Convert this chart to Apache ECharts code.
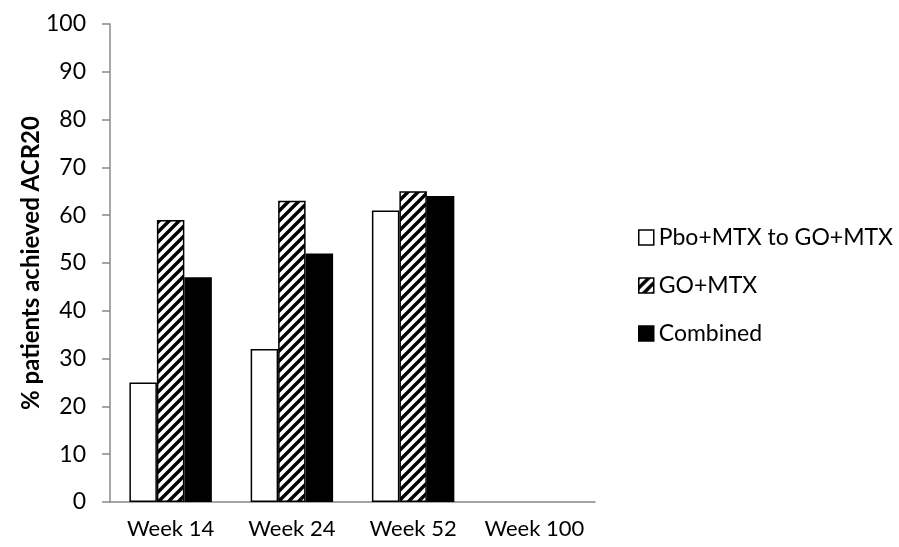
<!DOCTYPE html>
<html><head><meta charset="utf-8">
<script src="https://cdn.jsdelivr.net/npm/echarts@6/dist/echarts.min.js"></script>
<style>html,body{margin:0;padding:0;background:#fff}#c{width:899px;height:547px}</style>
</head><body><div id="c"></div>
<script>
const categories = ['Week 14', 'Week 24', 'Week 52', 'Week 100'];
const pboToGo = [25, 32, 61, null];
const goMtx = [59, 63, 65, null];
const combined = [47, 52, 64, null];
const yTicks = {min: 0, max: 100, interval: 10};

function hatch() {
  const s = 10, cv = document.createElement('canvas');
  cv.width = s; cv.height = s;
  const g = cv.getContext('2d');
  g.fillStyle = '#fff'; g.fillRect(0, 0, s, s);
  g.strokeStyle = '#000'; g.lineWidth = 3.4;
  g.beginPath();
  g.moveTo(-s, s); g.lineTo(s, -s);
  g.moveTo(0, s); g.lineTo(s, 0);
  g.moveTo(0, 2 * s); g.lineTo(2 * s, 0);
  g.stroke();
  return {image: cv, repeat: 'repeat'};
}
const font = 'Lato, "Open Sans", sans-serif';
const chart = echarts.init(document.getElementById('c'));
chart.setOption({
  animation: false,
  textStyle: {fontFamily: font},
  grid: {left: 110, right: 304, top: 24, bottom: 45},
  legend: {
    orient: 'vertical', left: 633, top: 221, itemGap: 25, itemWidth: 15, itemHeight: 15,
    icon: 'rect',
    textStyle: {fontSize: 23, color: '#000', fontFamily: font},
    itemStyle: {borderWidth: 1.5, borderColor: '#000'},
    data: ['Pbo+MTX to GO+MTX', 'GO+MTX', 'Combined']
  },
  xAxis: {
    type: 'category', data: categories,
    axisLine: {lineStyle: {color: '#888', width: 1.5}},
    axisTick: {length: 8, lineStyle: {color: '#888', width: 1.5}},
    axisLabel: {fontSize: 22, color: '#000', margin: 16, interval: 0, hideOverlap: false, fontFamily: font}
  },
  yAxis: {
    type: 'value', min: yTicks.min, max: yTicks.max, interval: yTicks.interval,
    name: '% patients achieved ACR20', nameLocation: 'middle', nameGap: 67, nameMoveOverlap: false,
    nameTextStyle: {fontSize: 24, fontWeight: 'bold', color: '#000', fontFamily: font},
    axisLine: {show: true, lineStyle: {color: '#888', width: 1.5}},
    axisTick: {show: true, length: 8, lineStyle: {color: '#888', width: 1.5}},
    axisLabel: {fontSize: 23, color: '#000', margin: 24, fontFamily: font},
    splitLine: {show: false}
  },
  series: [
    {name: 'Pbo+MTX to GO+MTX', type: 'bar', data: pboToGo, barGap: '0%', barCategoryGap: '32%',
     itemStyle: {color: '#fff', borderColor: '#000', borderWidth: 1.5}},
    {name: 'GO+MTX', type: 'bar', data: goMtx,
     itemStyle: {color: hatch(), borderColor: '#000', borderWidth: 1.5}},
    {name: 'Combined', type: 'bar', data: combined,
     itemStyle: {color: '#000', borderColor: '#000', borderWidth: 1.5}}
  ]
});
</script></body></html>
